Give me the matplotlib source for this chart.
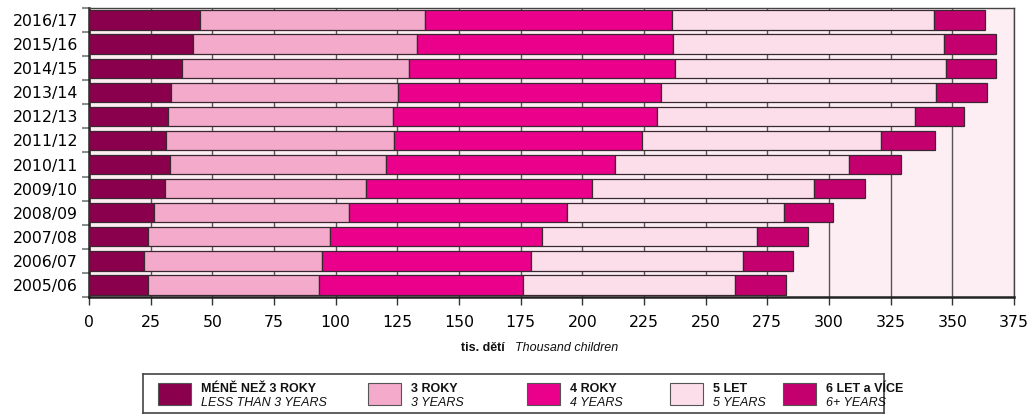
import matplotlib
matplotlib.use("Agg")
import matplotlib.pyplot as plt
from matplotlib.patches import Rectangle
import numpy as np

plt.rcParams['font.family'] = ['Liberation Sans', 'DejaVu Sans']

years = ["2005/06", "2006/07", "2007/08", "2008/09", "2009/10", "2010/11",
         "2011/12", "2012/13", "2013/14", "2014/15", "2015/16", "2016/17"]

under3 = [23.8, 22.4, 23.8, 26.4, 30.8, 33.0, 31.4, 31.9, 33.3, 37.8, 42.3, 44.9]
age3   = [69.6, 72.1, 73.9, 79.0, 81.4, 87.3, 92.4, 91.5, 92.1, 92.1, 90.8, 91.4]
age4   = [82.5, 84.7, 86.1, 88.3, 91.6, 93.0, 100.3, 106.8, 106.4, 107.5, 103.7, 100.2]
age5   = [85.9, 86.1, 87.2, 88.1, 90.3, 94.9, 96.9, 104.5, 111.4, 110.0, 109.9, 105.9]
age6p  = [20.7, 20.3, 20.6, 20.0, 20.3, 20.8, 21.8, 20.0, 20.7, 20.5, 21.1, 20.7]

series = [under3, age3, age4, age5, age6p]
labels_cz = ["MÉNĚ NEŽ 3 ROKY", "3 ROKY", "4 ROKY", "5 LET", "6 LET a VÍCE"]
labels_en = ["LESS THAN 3 YEARS", "3 YEARS", "4 YEARS", "5 YEARS", "6+ YEARS"]
colors = ["#8a004c", "#f4aacb", "#eb008b", "#fcdeea", "#c4006f"]
xticks = list(range(0, 376, 25))

leg_family, leg_size = ["Liberation Sans", "DejaVu Sans"], 9.0

W, H = 1028, 419
fig = plt.figure(figsize=(W / 100, H / 100), dpi=100)

def box(l, t, r, b):
    return [l / W, 1 - b / H, (r - l) / W, (b - t) / H]

ax = fig.add_axes(box(89, 8, 1014, 297))
ax.set_facecolor("#fdeef4")

y = np.arange(len(years))
left = np.zeros(len(years))
for vals, col in zip(series, colors):
    ax.barh(y, vals, left=left, height=0.8, color=col, edgecolor="#3a2830",
            linewidth=0.9, zorder=3)
    left = left + np.array(vals)

tick_font = dict(family=["DejaVu Sans"], size=11.3)
ax.set_xlim(0, 375)
ax.set_ylim(-0.5, len(years) - 0.5)
ax.set_xticks(xticks)
ax.set_xticklabels([str(v) for v in xticks], fontdict=tick_font)
ax.set_yticks(y)
ax.set_yticklabels(years, fontdict=tick_font)
ax.set_yticks(np.arange(-0.5, len(years), 1.0), minor=True)
ax.tick_params(axis='y', which='major', length=0, pad=8)
ax.tick_params(axis='y', which='minor', length=5, width=1.2, color="#777777")
ax.tick_params(axis='x', which='major', length=6, width=1.0, color="#333333",
               pad=7)
ax.xaxis.grid(True, color="#555555", linewidth=1.0, zorder=1)
ax.set_axisbelow(True)
for s in ['left', 'bottom']:
    ax.spines[s].set_linewidth(1.8)
    ax.spines[s].set_color("#222222")
for s in ['top', 'right']:
    ax.spines[s].set_linewidth(1.0)
    ax.spines[s].set_color("#444444")

# axis label
fig.text(505 / W, 1 - 348 / H, "tis. dětí", family=leg_family, size=leg_size,
         fontweight='bold', ha='right', va='center', color="#111111")
fig.text(515 / W, 1 - 348 / H, "Thousand children", family=leg_family,
         size=leg_size, style='italic', ha='left', va='center',
         color="#111111")

# legend box
lax = fig.add_axes(box(143, 374, 884, 413))
lax.set_xlim(143, 884)
lax.set_ylim(413, 374)
lax.set_xticks([])
lax.set_yticks([])
for s in lax.spines.values():
    s.set_linewidth(1.2)
    s.set_color("#444444")
sw_x = [158, 368, 527, 670, 783]
for sx, col, cz, en in zip(sw_x, colors, labels_cz, labels_en):
    lax.add_patch(Rectangle((sx, 383), 33, 22, facecolor=col,
                            edgecolor="#555555", linewidth=0.8))
    lax.text(sx + 43, 388.5, cz, family=leg_family, size=leg_size,
             fontweight='bold', ha='left', va='center', color="#111111")
    lax.text(sx + 43, 403, en, family=leg_family, size=leg_size,
             style='italic', ha='left', va='center', color="#111111")

fig.savefig("out.png", dpi=100)
